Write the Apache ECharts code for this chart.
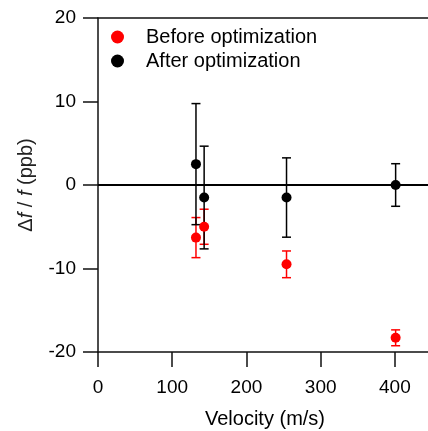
<!DOCTYPE html>
<html lang="en">
  <head>
    <meta charset="UTF-8" />
    <script src="https://cdn.jsdelivr.net/npm/echarts@6/dist/echarts.min.js"></script>
    <style>
      html, body { margin: 0; padding: 0; background: #fff; }
    </style>
    <title>Frequency shift vs velocity</title>
  </head>
  <body>
    <div id="main" style="width: 428px; height: 431px;"></div>

    <script>
      const velocities = [132, 143, 254, 401];
      const beforeVals = [-6.3, -5.0, -9.5, -18.3];
      const beforeErr = [2.4, 2.1, 1.6, 0.95];
      const afterVals = [2.5, -1.5, -1.5, 0];
      const afterErr = [7.25, 6.15, 4.75, 2.55];
      const xTicks = [0, 100, 200, 300, 400];
      const yTicks = [-20, -10, 0, 10, 20];

      const font = "'Liberation Sans', Arial, sans-serif";
      const axisColor = "#111";

      function toPoints(vals, errs) {
        return velocities.map((v, i) => [v, vals[i], errs[i]]);
      }

      function errorBar(color) {
        return (params, api) => {
          const x = api.value(0);
          const y = api.value(1);
          const e = api.value(2);
          const top = api.coord([x, y + e]);
          const bot = api.coord([x, y - e]);
          const hw = 4.5;
          const style = { stroke: color, lineWidth: 1.5 };
          return {
            type: "group",
            children: [
              { type: "line", shape: { x1: top[0], y1: top[1], x2: bot[0], y2: bot[1] }, style },
              { type: "line", shape: { x1: top[0] - hw, y1: top[1], x2: top[0] + hw, y2: top[1] }, style },
              { type: "line", shape: { x1: bot[0] - hw, y1: bot[1], x2: bot[0] + hw, y2: bot[1] }, style },
            ],
          };
        };
      }

      const myChart = echarts.init(document.getElementById("main"));

      myChart.setOption({
        animation: false,
        textStyle: { fontFamily: font },
        grid: { left: 98, top: 18, right: -4, bottom: 79, outerBoundsMode: "none", containLabel: false },
        legend: {
          data: ["Before optimization", "After optimization"],
          orient: "vertical",
          left: 106,
          top: 22,
          icon: "circle",
          itemWidth: 13,
          itemHeight: 13,
          itemGap: 4,
          textStyle: { fontSize: 20, color: "#000", fontFamily: font, padding: [0, 0, 0, 17] },
        },
        xAxis: [
          {
            type: "value",
            min: 0,
            max: 450,
            interval: 100,
            name: "Velocity (m/s)",
            nameLocation: "middle",
            nameGap: 57,
            nameTextStyle: { fontSize: 20, color: "#000", fontFamily: font },
            axisLine: { onZero: false, lineStyle: { color: axisColor, width: 1.5 } },
            axisTick: { inside: false, length: 15, customValues: xTicks, lineStyle: { color: axisColor, width: 1.5 } },
            axisLabel: { customValues: xTicks, fontSize: 19, color: "#000", margin: 26, fontFamily: font },
            splitLine: { show: false },
          },
          {
            type: "value",
            position: "top",
            min: 0,
            max: 450,
            axisLine: { show: true, onZero: false, lineStyle: { color: axisColor, width: 1.5 } },
            axisTick: { show: false },
            axisLabel: { show: false },
            splitLine: { show: false },
          },
        ],
        yAxis: {
          type: "value",
          min: -20,
          max: 20,
          interval: 10,
          name: "{d|Δ}{i|f} / {i|f} (ppb)",
          nameLocation: "middle",
          nameGap: 62,
          nameRotate: 90,
          nameTextStyle: {
            fontSize: 20,
            color: "#222",
            fontFamily: font,
            rich: {
              d: { fontSize: 20, color: "#222", fontFamily: font },
              i: { fontSize: 20, color: "#222", fontStyle: "italic", fontFamily: font },
            },
          },
          axisLine: { onZero: false, lineStyle: { color: axisColor, width: 1.5 } },
          axisTick: { inside: false, length: 15, customValues: yTicks, lineStyle: { color: axisColor, width: 1.5 } },
          axisLabel: { customValues: yTicks, fontSize: 19, color: "#000", margin: 22, fontFamily: font },
          splitLine: { show: false },
        },
        series: [
          {
            type: "custom",
            renderItem: errorBar("#ff0000"),
            data: toPoints(beforeVals, beforeErr),
            encode: { x: 0, y: 1 },
            z: 2,
            silent: true,
          },
          {
            type: "custom",
            renderItem: errorBar("#000"),
            data: toPoints(afterVals, afterErr),
            encode: { x: 0, y: 1 },
            z: 2,
            silent: true,
          },
          {
            name: "Before optimization",
            type: "scatter",
            symbol: "circle",
            symbolSize: 10,
            itemStyle: { color: "#ff0000", opacity: 1 },
            data: toPoints(beforeVals, beforeErr),
            encode: { x: 0, y: 1 },
            z: 3,
          },
          {
            name: "After optimization",
            type: "scatter",
            symbol: "circle",
            symbolSize: 10,
            itemStyle: { color: "#000", opacity: 1 },
            data: toPoints(afterVals, afterErr),
            encode: { x: 0, y: 1 },
            z: 3,
            markLine: {
              silent: true,
              symbol: "none",
              label: { show: false },
              lineStyle: { color: "#000", width: 1.8, type: "solid" },
              data: [{ yAxis: 0 }],
            },
          },
        ],
      });
    </script>
  </body>
</html>
